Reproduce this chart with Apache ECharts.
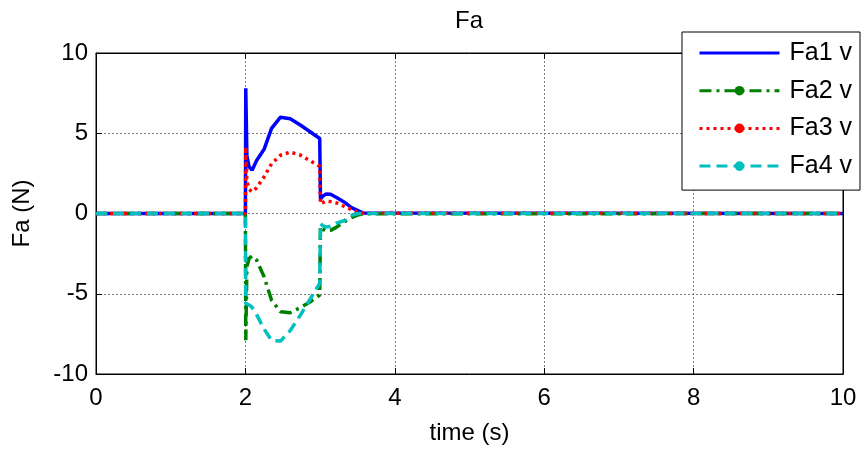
<!DOCTYPE html>
<html>
<head>
<meta charset="utf-8">
<script src="https://cdn.jsdelivr.net/npm/echarts@6/dist/echarts.min.js"></script>
<style>html,body{margin:0;padding:0;background:#fff}#c{width:861px;height:450px}</style>
</head>
<body>
<div id="c"></div>
<script>
const time = [0, 2.0, 2.005, 2.02, 2.05, 2.09, 2.15, 2.25, 2.35, 2.47, 2.6, 2.74, 2.87, 2.995, 3.0, 3.005, 3.03, 3.08, 3.14, 3.22, 3.32, 3.42, 3.5, 3.58, 10];
const fa1 = [0, 0, 7.8, 3.6, 2.9, 2.7, 3.3, 4.0, 5.3, 6.0, 5.9, 5.5, 5.08, 4.67, 4.55, 0.9, 1.05, 1.22, 1.2, 1.0, 0.72, 0.37, 0.2, 0.03, 0];
const fa2 = [0, 0, -7.9, -3.3, -2.8, -2.65, -2.9, -3.94, -5.4, -6.12, -6.18, -5.85, -5.5, -5.08, -5.0, -0.8, -0.95, -1.1, -1.05, -0.85, -0.52, -0.25, -0.1, -0.02, 0];
const fa3 = [0, 0, 4.15, 2.0, 1.5, 1.35, 1.6, 2.28, 3.1, 3.63, 3.83, 3.63, 3.27, 2.94, 2.9, 0.6, 0.65, 0.78, 0.74, 0.66, 0.45, 0.25, 0.1, 0.02, 0];
const fa4 = [0, 0, -5.6, -5.6, -5.7, -5.85, -6.3, -7.2, -7.9, -7.95, -7.3, -6.3, -5.3, -4.35, -4.3, -0.6, -0.75, -0.85, -0.8, -0.6, -0.45, -0.12, 0, 0, 0];
const seriesNames = ['Fa1 v', 'Fa2 v', 'Fa3 v', 'Fa4 v'];
const xTicks = [0, 2, 4, 6, 8, 10];
const yTicks = [-10, -5, 0, 5, 10];

const pairs = v => time.map((t, i) => [t, v[i]]);
const FONT = 'Liberation Sans, Arial, sans-serif';
const styles = [
  {color: '#0000ff', type: 'solid', symbol: 'circle'},
  {color: '#008000', type: [12, 5, 3, 5], symbol: 'circle'},
  {color: '#ff0000', type: [3, 4], symbol: 'circle'},
  {color: '#00bfbf', type: [11, 6], symbol: 'circle'}
];
const vals = [fa1, fa2, fa3, fa4];

const chart = echarts.init(document.getElementById('c'), null, {renderer: 'canvas'});
const gridLine = {show: true, lineStyle: {color: '#7a7a7a', type: [2, 2], width: 1}};
const axLine = {show: true, onZero: false, lineStyle: {color: '#000', width: 1}};
const tick = {show: true, inside: true, length: 6, lineStyle: {color: '#000'}};
chart.setOption({
  animation: false,
  backgroundColor: '#fff',
  title: {text: 'Fa', left: 469, top: 9, padding: 0, textAlign: 'center',
    textStyle: {fontFamily: FONT, fontSize: 24, fontWeight: 'normal', color: '#000'}},
  grid: {left: 96, right: 18, top: 53, bottom: 76, show: true, borderColor: '#000', borderWidth: 1},
  legend: {
    orient: 'vertical', right: 1, top: 32, z: 20,
    backgroundColor: '#fff', borderColor: '#000', borderWidth: 1,
    padding: [8, 8, 11, 16], itemWidth: 80, itemHeight: 12, itemGap: 11.7,
    lineStyle: {width: 3},
    textStyle: {fontFamily: FONT, fontSize: 25, color: '#000', lineHeight: 26, padding: [0, 0, 0, 5]},
    data: seriesNames.map((n, i) => i === 0
      ? {name: n, itemStyle: {color: 'rgba(0,0,0,0)', borderWidth: 0, opacity: 0}}
      : {name: n})
  },
  xAxis: [{
    type: 'value', min: xTicks[0], max: xTicks[xTicks.length - 1], interval: 2,
    name: 'time (s)', nameLocation: 'middle', nameGap: 47,
    nameTextStyle: {fontFamily: FONT, fontSize: 24, color: '#000'},
    axisLine: axLine, axisTick: tick,
    axisLabel: {fontFamily: FONT, fontSize: 24, color: '#000', margin: 12},
    splitLine: gridLine
  }, {
    type: 'value', position: 'top', min: 0, max: 10, interval: 2,
    axisLine: axLine, axisTick: tick,
    axisLabel: {show: false}, splitLine: {show: false}
  }],
  yAxis: [{
    type: 'value', min: yTicks[0], max: yTicks[yTicks.length - 1], interval: 5,
    name: 'Fa (N)', nameLocation: 'middle', nameGap: 62,
    nameTextStyle: {fontFamily: FONT, fontSize: 24, color: '#000'},
    axisLine: axLine, axisTick: tick,
    axisLabel: {fontFamily: FONT, fontSize: 24, color: '#000', margin: 8},
    splitLine: gridLine
  }, {
    type: 'value', position: 'right', min: -10, max: 10, interval: 5,
    axisLine: axLine, axisTick: tick,
    axisLabel: {show: false}, splitLine: {show: false}
  }],
  series: seriesNames.map((n, i) => ({
    name: n, type: 'line', data: pairs(vals[i]),
    xAxisIndex: 0, yAxisIndex: 0,
    symbol: styles[i].symbol, symbolSize: 12, showSymbol: false,
    itemStyle: {color: styles[i].color},
    lineStyle: {color: styles[i].color, width: 3.5, type: styles[i].type},
    z: 2 + i
  }))
});
</script>
</body>
</html>
